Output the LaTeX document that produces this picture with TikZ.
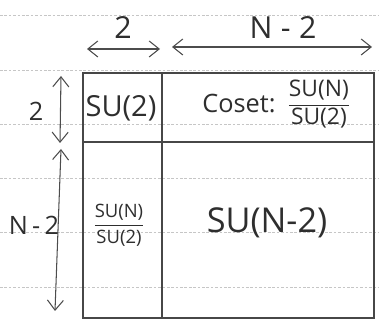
\documentclass[tikz,border=0pt]{standalone}
\usepackage{amsmath}
\usepackage{fontspec}
\setmainfont{Open Sans}
\usetikzlibrary{arrows.meta,positioning}

\newcommand{\cosetfrac}[2]{$\dfrac{\text{#1}}{\text{#2}}$}

\begin{document}
\begin{tikzpicture}[
    x=0.02cm, y=-0.02cm,
    font=\large,
    >={Straight Barb[length=2mm,width=3.2mm]},
    pencil/.style={draw=black!72, line width=0.75pt},
    ruled/.style={draw=gray!45, line width=0.3pt, dash pattern=on 1.5pt off 1pt},
    dim/.style={<->, draw=black!70, line width=0.6pt},
    lbl/.style={inner sep=1pt, text=black!82},
  ]
    \useasboundingbox (0,0) rectangle (379,320);

    % --- ruled paper -----------------------------------------------------
    \foreach \y in {15,70,124,178,232,287}
      \draw[ruled] (0,\y) -- (379,\y);

    % --- block matrix ----------------------------------------------------
    \coordinate (nw) at (83,73);
    \coordinate (se) at (374,318);
    \draw[pencil] (nw) rectangle (se);
    \draw[pencil] (162,73) -- (162,318);
    \draw[pencil] (83,142) -- (374,142);

    % --- block contents --------------------------------------------------
    \node[lbl, font=\fontsize{16.5}{19}\selectfont] (su2) at (121,108) {SU(2)};
    \node[lbl, font=\Large] (coset) at (239,104) {Coset:};
    \node[lbl, right=4pt of coset, font=\fontsize{13}{15}\selectfont] (cosetq)
      {\cosetfrac{SU(N)}{SU(2)}};
    \node[lbl, font=\fontsize{10.5}{12}\selectfont] (quot) at (119,225)
      {\cosetfrac{SU(N)}{SU(2)}};
    \node[lbl, font=\fontsize{19.5}{22}\selectfont] (sun2) at (267,223) {SU(N-2)};

    % --- dimension arrows ------------------------------------------------
    \coordinate (t1a) at (87,49);   \coordinate (t1b) at (160,49);
    \coordinate (t2a) at (172,47);  \coordinate (t2b) at (372,47);
    \coordinate (l1a) at (61,76);   \coordinate (l1b) at (60,143);
    \coordinate (l2a) at (61,149);  \coordinate (l2b) at (55,311);
    \draw[dim] (t1a) -- (t1b);
    \draw[dim] (t2a) -- (t2b);
    \draw[dim] (l1a) -- (l1b);
    \draw[dim] (l2a) -- (l2b);

    \node[lbl, font=\LARGE] (top2)  at (123,28) {2};
    \node[lbl, font=\LARGE] (topn2) at (283,28) {N\;-\;2};
    \node[lbl, font=\Large] (left2)  at (36,111) {2};
    \node[lbl, font=\Large] (leftn2) at (34,225) {N\,-\,2};
\end{tikzpicture}
\end{document}
